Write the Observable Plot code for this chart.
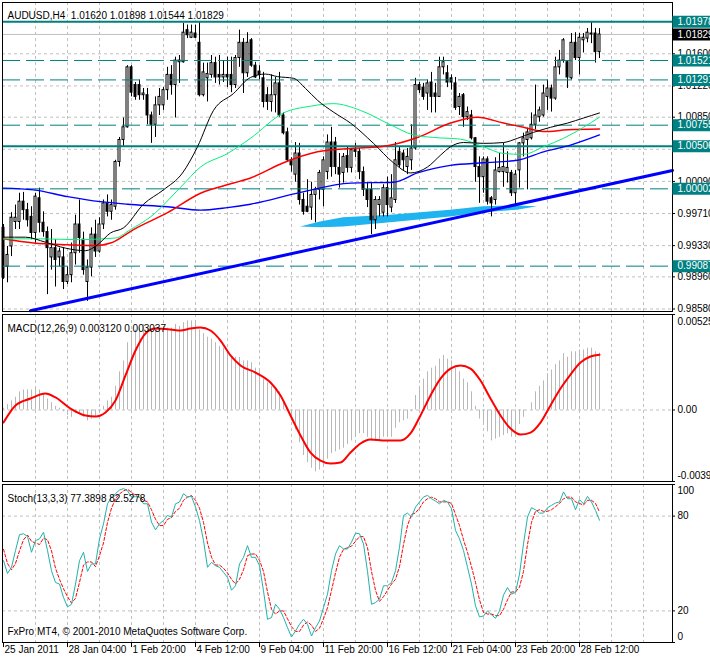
<!DOCTYPE html>
<html><head><meta charset="utf-8">
<script src="https://cdn.jsdelivr.net/npm/d3@7"></script>
<script src="https://cdn.jsdelivr.net/npm/@observablehq/plot@0.6"></script>
<style>
html,body{margin:0;padding:0;background:#fff;}
#chart{position:relative;width:710px;height:659px;overflow:hidden;background:#fff;}
#chart > svg{position:absolute;left:0;}
svg text{white-space:pre;}
</style></head><body><div id="chart"></div>
<script>
// ---------- DATA ----------
const opens = [
0.9954,0.9908,0.9932,0.9961,0.9961,0.9985,0.9975,0.9967,0.9948,0.9989,
0.9960,0.9949,0.9919,0.9930,0.9919,0.9919,0.9890,0.9898,0.9924,0.9958,
0.9940,0.9890,0.9907,0.9946,0.9926,0.9958,0.9983,0.9973,0.9979,1.0032,
1.0058,1.0073,1.0144,1.0123,1.0123,1.0111,1.0111,1.0087,1.0076,1.0099,
1.0099,1.0117,1.0135,1.0123,1.0150,1.0150,1.0188,1.0179,1.0184,1.0173,
1.0111,1.0131,1.0135,1.0149,1.0135,1.0132,1.0135,1.0135,1.0123,1.0155,
1.0173,1.0137,1.0176,1.0146,1.0139,1.0131,1.0111,1.0103,1.0111,1.0125,
1.0087,1.0067,1.0034,1.0017,1.0042,0.9987,0.9979,0.9978,0.9993,0.9999,
0.9999,1.0020,1.0055,1.0055,1.0025,1.0019,1.0039,1.0025,1.0046,1.0044,
1.0020,0.9999,0.9999,0.9963,0.9981,0.9972,1.0001,0.9978,0.9987,1.0044,
1.0042,1.0026,1.0034,1.0048,1.0123,1.0120,1.0113,1.0126,1.0113,1.0109,
1.0144,1.0137,1.0131,1.0125,1.0097,1.0111,1.0085,1.0087,1.0060,1.0026,
1.0014,1.0035,0.9989,0.9987,1.0020,1.0020,1.0019,1.0019,0.9995,1.0022,
1.0054,1.0058,1.0060,1.0076,1.0085,1.0087,1.0109,1.0119,1.0107,1.0144,
1.0152,1.0150,1.0131,1.0173,1.0155,1.0176,1.0178,1.0184,1.0184,1.01620];
const highs = [
0.9958,0.9932,0.9972,0.9981,0.9995,0.9996,0.9983,0.9979,0.9995,1.0001,
0.9973,0.9955,0.9952,0.9940,0.9930,0.9930,0.9908,0.9936,0.9969,0.9987,
0.9949,0.9916,0.9954,0.9963,0.9966,0.9987,0.9993,0.9987,1.0034,1.0061,
1.0084,1.0146,1.0146,1.0126,1.0129,1.0119,1.0119,1.0091,1.0109,1.0119,
1.0120,1.0144,1.0146,1.0156,1.0158,1.0196,1.0194,1.0194,1.0194,1.0197,
1.0149,1.0149,1.0158,1.0156,1.0158,1.0152,1.0156,1.0156,1.0158,1.0188,
1.0178,1.0185,1.0178,1.0150,1.0146,1.0138,1.0120,1.0135,1.0132,1.0138,
1.0090,1.0072,1.0037,1.0055,1.0054,0.9995,1.0011,1.0008,1.0002,1.0022,
1.0038,1.0064,1.0073,1.0061,1.0042,1.0042,1.0050,1.0048,1.0054,1.0048,
1.0026,1.0008,1.0008,0.9991,0.9991,1.0005,1.0014,1.0017,1.0055,1.0050,
1.0046,1.0048,1.0076,1.0131,1.0126,1.0125,1.0129,1.0138,1.0125,1.0156,
1.0156,1.0146,1.0135,1.0132,1.0113,1.0113,1.0097,1.0093,1.0061,1.0038,
1.0038,1.0038,0.9991,1.0037,1.0042,1.0054,1.0044,1.0022,1.0022,1.0055,
1.0066,1.0072,1.0090,1.0123,1.0097,1.0123,1.0129,1.0123,1.0156,1.0164,
1.0178,1.0152,1.0184,1.0185,1.0184,1.0184,1.0190,1.0198,1.0190,1.01898];
const lows = [
0.9893,0.9889,0.9920,0.9952,0.9952,0.9963,0.9955,0.9940,0.9936,0.9948,
0.9943,0.9875,0.9904,0.9884,0.9908,0.9881,0.9887,0.9889,0.9910,0.9924,
0.9898,0.9867,0.9896,0.9919,0.9924,0.9952,0.9967,0.9963,0.9975,1.0026,
1.0050,1.0072,1.0109,1.0105,1.0105,1.0105,1.0076,1.0054,1.0061,1.0087,
1.0093,1.0105,1.0111,1.0084,1.0125,1.0149,1.0178,1.0178,1.0178,1.0109,
1.0109,1.0103,1.0131,1.0125,1.0123,1.0126,1.0120,1.0114,1.0119,1.0144,
1.0113,1.0132,1.0144,1.0131,1.0129,1.0096,1.0093,1.0091,1.0090,1.0085,
1.0064,1.0032,1.0020,1.0008,0.9981,0.9969,0.9972,0.9963,0.9960,0.9987,
0.9979,1.0011,1.0014,1.0017,1.0001,1.0007,1.0019,1.0019,1.0037,1.0011,
0.9991,0.9978,0.9946,0.9952,0.9967,0.9967,0.9967,0.9972,0.9983,1.0025,
1.0022,1.0017,1.0022,1.0046,1.0113,1.0105,1.0093,1.0090,1.0090,1.0109,
1.0135,1.0120,1.0117,1.0093,1.0087,1.0073,1.0081,1.0058,1.0008,0.9983,
0.9995,0.9981,0.9967,0.9981,1.0019,1.0002,1.0007,0.9991,0.9981,1.0001,
1.0038,0.9999,1.0058,1.0070,1.0079,1.0085,1.0093,1.0091,1.0105,1.0135,
1.0149,1.0119,1.0129,1.0152,1.0135,1.0161,1.0173,1.0172,1.0149,1.01544];
const closes = [
0.9895,0.9922,0.9966,0.9966,0.9985,0.9975,0.9963,0.9948,0.9991,0.9960,
0.9949,0.9930,0.9930,0.9916,0.9926,0.9890,0.9898,0.9924,0.9958,0.9942,
0.9904,0.9907,0.9946,0.9926,0.9958,0.9983,0.9973,0.9981,1.0032,1.0058,
1.0073,1.0144,1.0114,1.0109,1.0111,1.0113,1.0087,1.0076,1.0099,1.0109,
1.0117,1.0135,1.0123,1.0152,1.0152,1.0185,1.0182,1.0185,1.0179,1.0111,
1.0138,1.0136,1.0149,1.0132,1.0132,1.0135,1.0132,1.0123,1.0155,1.0173,
1.0137,1.0173,1.0146,1.0132,1.0135,1.0103,1.0103,1.0111,1.0125,1.0087,
1.0066,1.0034,1.0028,1.0042,0.9987,0.9973,0.9973,0.9993,0.9999,1.0019,
1.0034,1.0055,1.0026,1.0026,1.0017,1.0038,1.0025,1.0046,1.0044,1.0020,
0.9999,0.9987,0.9963,0.9987,0.9987,1.0001,0.9981,0.9989,1.0034,1.0028,
1.0034,1.0038,1.0048,1.0123,1.0117,1.0109,1.0125,1.0109,1.0109,1.0144,
1.0150,1.0126,1.0126,1.0096,1.0109,1.0085,1.0091,1.0060,1.0026,1.0014,
1.0035,0.9985,0.9983,1.0022,1.0025,1.0026,1.0025,0.9995,1.0017,1.0054,
1.0060,1.0067,1.0076,1.0087,1.0093,1.0113,1.0119,1.0107,1.0144,1.0152,
1.0176,1.0132,1.0173,1.0155,1.0179,1.0179,1.0185,1.0183,1.0162,1.01829];

const timeLabels = ["25 Jan 2011","28 Jan 04:00","1 Feb 20:00","4 Feb 12:00","9 Feb 04:00",
  "11 Feb 20:00","16 Feb 12:00","21 Feb 04:00","23 Feb 20:00","28 Feb 12:00"];
const timeLabelBars = [0,16,32,48,64,80,96,112,128,144];

const priceTicks = [1.01600,1.01220,1.00850,1.00470,1.00090,0.99710,0.99330,0.98960,0.98580];
const solidLevels = [1.01978, 1.00506];
const dashedLevels = [1.01521, 1.01291, 1.00755, 1.00002, 0.99087];
const lastPrice = 1.01829;

// moving averages: [bar, price]
const maBlack = [[0,0.9943],[5.5,0.9943],[10.5,0.9937],[15.5,0.9930],[20.5,0.9927],[23.5,0.9934],[26.75,0.9948],[30,0.9954],[35,0.9982],[40,0.9999],[44.75,1.0019],[48.5,1.0050],[52.5,1.0093],[57.5,1.0113],[61.75,1.0132],[65.5,1.0136],[68.5,1.0133],[72.5,1.0131],[75.5,1.0119],[78.5,1.0105],[82.5,1.0091],[86.75,1.0078],[92.5,1.0054],[97.5,1.0031],[101.75,1.0019],[106,1.0026],[109.25,1.0040],[111.75,1.0050],[115,1.0055],[120,1.0054],[125,1.0055],[128.5,1.0060],[132.5,1.0067],[136.75,1.0073],[141,1.0078],[145,1.0084],[149,1.0090]];
const maGreen = [[0,0.9941],[9.25,0.9941],[19.25,0.9940],[24.25,0.9941],[28,0.9942],[31.75,0.9952],[36.75,0.9967],[44.25,1.0002],[49.25,1.0026],[56,1.0042],[61.75,1.0060],[70,1.0090],[76.75,1.0098],[82.5,1.0101],[89.25,1.0093],[96.75,1.0076],[102.5,1.0064],[107.5,1.0061],[114.25,1.0059],[120,1.0050],[125,1.0042],[130,1.0041],[135,1.0050],[140,1.0060],[145,1.0073],[149,1.0085]];
const maRed = [[0,0.9941],[7.5,0.9936],[16,0.9934],[23.5,0.9933],[26.75,0.9936],[32.5,0.9952],[41,0.9972],[49.25,0.9995],[57.5,1.0007],[61.75,1.0013],[70,1.0031],[78.5,1.0044],[86.75,1.0048],[94.25,1.0050],[103.5,1.0061],[111.75,1.0078],[118.5,1.0085],[125,1.0078],[130,1.0073],[135,1.0068],[141,1.0070],[149,1.0071]];
const maBlue = [[-0.25,1.0001],[7.5,0.9999],[16,0.9991],[24.25,0.9985],[31,0.9982],[41,0.9979],[49.25,0.9975],[56,0.9978],[61.75,0.9982],[74.25,0.9996],[86.75,1.0007],[97.5,1.0008],[103.5,1.0019],[111.75,1.0028],[120,1.0031],[128.5,1.0034],[135,1.0044],[141.75,1.0052],[149,1.0064]];

const trendPoints = [[6.75,0.9856],[167.25,1.0022]];

const blobBars   = [74.25, 79.25, 85, 96.75, 111.75, 120, 128.5, 133.5];
const blobTop    = [0.9955, 0.9961, 0.9966, 0.9969, 0.9975, 0.9979, 0.9980, 0.9979];
const blobBottom = [0.9955, 0.9954, 0.9955, 0.9960, 0.9967, 0.9972, 0.9975, 0.9979];

const macdMain = [
0.0001,0.0003,0.0005,0.0007,0.0010,0.0011,0.0011,0.0011,0.0012,0.0011,
0.0009,0.0006,0.0004,0.0002,0.0001,-0.0001,-0.0003,-0.0004,-0.0002,-0.0002,
-0.0004,-0.0006,-0.0005,-0.0004,-0.0001,0.0002,0.0005,0.0007,0.0013,0.0021,
0.0027,0.0037,0.0041,0.0044,0.0045,0.0047,0.0045,0.0044,0.0044,0.0044,
0.0044,0.0045,0.0045,0.0047,0.0046,0.0048,0.0049,0.0049,0.0049,0.0044,
0.0042,0.0040,0.0039,0.0037,0.0035,0.0034,0.0032,0.0029,0.0029,0.0029,
0.0027,0.0027,0.0026,0.0023,0.0021,0.0017,0.0015,0.0013,0.0012,0.0010,
0.0005,0.0000,-0.0006,-0.0011,-0.0018,-0.0025,-0.0029,-0.0032,-0.0034,-0.0033,
-0.0031,-0.0027,-0.0024,-0.0023,-0.0022,-0.0021,-0.0019,-0.0017,-0.0015,-0.0013,
-0.0013,-0.0015,-0.0017,-0.0017,-0.0017,-0.0015,-0.0015,-0.0015,-0.0010,-0.0007,
-0.0006,-0.0005,-0.0001,0.0008,0.0013,0.0017,0.0021,0.0023,0.0024,0.0028,
0.0030,0.0028,0.0027,0.0023,0.0021,0.0017,0.0015,0.0010,0.0002,-0.0005,
-0.0007,-0.0012,-0.0017,-0.0016,-0.0015,-0.0014,-0.0013,-0.0015,-0.0013,-0.0008,
-0.0004,0.0000,0.0004,0.0010,0.0013,0.0016,0.0020,0.0022,0.0025,0.0027,
0.0031,0.0029,0.0032,0.0032,0.0033,0.0033,0.0034,0.0034,0.0032,0.00312];
const macdSignal = [[0,-0.00069],[3,0.00025],[6.75,0.00063],[10.5,0.00091],[13,0.00069],[16.75,0.00008],[20.5,-0.00030],[23,-0.00036],[25.5,-0.00014],[28,0.00052],[30.5,0.00190],[33,0.00327],[35.5,0.00421],[38,0.00448],[41.75,0.00443],[44.25,0.00437],[46.75,0.00448],[49.25,0.00453],[51.75,0.00437],[54.25,0.00382],[56.75,0.00300],[59.25,0.00245],[63,0.00206],[66.75,0.00151],[69.25,0.00080],[71.75,-0.00030],[74.25,-0.00140],[76.75,-0.00234],[79.25,-0.00278],[81.75,-0.00294],[84.25,-0.00289],[86.75,-0.00234],[89.25,-0.00184],[91.75,-0.00162],[95.5,-0.00168],[99.25,-0.00168],[101.75,-0.00129],[104.25,-0.00030],[106.75,0.00080],[109.25,0.00173],[111.75,0.00228],[114.25,0.00245],[116.75,0.00228],[119.25,0.00162],[121.75,0.00063],[124.25,-0.00030],[126.75,-0.00102],[129.25,-0.00135],[131.75,-0.00124],[134.25,-0.00069],[136.75,0.00025],[139.25,0.00118],[141.75,0.00195],[144.25,0.00261],[146.75,0.00294],[149,0.003037]];
const macdTicks = [0.00525, 0, -0.00393];

const stochMain = [
51.8,43.7,47.6,58.2,68.3,68.8,67.1,57.1,64.5,65.6,
69.8,58.2,45.4,38.0,37.0,28.5,22.5,24.2,37.0,51.8,
57.1,45.0,49.7,49.7,65.6,75.1,87.8,92.1,94.2,96.5,
97.4,96.0,92.1,92.3,92.1,87.8,87.8,76.2,71.3,75.1,
77.2,80.4,79.4,87.8,88.9,94.2,92.1,92.5,85.7,77.2,
64.5,47.6,50.7,48.6,47.6,44.4,41.2,33.1,35.9,49.7,
53.9,61.3,53.9,53.9,48.6,32.7,14.7,15.8,24.2,21.1,
15.8,9.4,3.5,7.3,11.5,14.7,11.5,4.1,9.4,13.6,
22.1,30.6,45.4,56.0,61.3,59.2,59.2,63.5,69.2,68.8,
62.4,45.0,24.2,25.3,27.4,35.9,35.9,38.0,45.4,60.3,
80.4,81.9,79.4,85.7,88.9,92.1,93.1,91.0,89.5,87.8,
90.0,88.9,84.7,70.9,65.6,58.2,47.6,37.0,23.2,16.2,
16.8,20.0,17.5,15.3,20.0,30.0,34.8,30.6,31.7,43.3,
62.4,79.4,85.3,84.0,81.9,81.9,85.3,86.8,88.3,88.9,
95.3,91.0,91.0,84.0,90.4,87.8,92.5,88.9,83.6,77.39];
const stochSignal = [
59,50,46,50,58,65,68,64,63,62,
66,65,58,47,40,34,29,25,28,38,
49,51,51,48,55,63,76,85,91,94,
96,97,95,93,92,90,89,84,78,74,
74,78,79,83,85,90,92,93,90,85,
76,63,54,49,49,47,44,40,37,40,
46,55,56,56,52,45,32,21,18,20,
20,15,10,7,7,11,13,11,7,9,
15,22,33,44,54,59,60,61,64,67,
67,60,45,33,26,29,33,37,40,48,
62,74,81,82,85,89,91,92,91,89,
89,89,88,81,74,65,57,48,38,27,
19,18,18,17,17,21,27,32,32,35,
45,62,76,83,84,83,83,84,86,88,
91,92,92,89,88,87,90,90,88,82.53];
const stochTicks = [100, 80, 20, 0];

// ---------- BUILD ----------
const W = 710;
const xDomain = [-0.25, 167.25];
const xEnd = xDomain[1];
const gridBars = d3.range(8, 161, 8);
const font = '"Liberation Sans", Arial, sans-serif';
const teal = "#008080";
const gridStyle = {stroke: "#c0c0c0", strokeDasharray: "3,3"};

const candles = opens.map((o, i) => ({i, open: o, high: highs[i], low: lows[i], close: closes[i]}));
const blob = blobBars.map((b, k) => ({bar: b, top: blobTop[k], bottom: blobBottom[k]}));
const allLevels = [...solidLevels, ...dashedLevels];

function panel(height, mt, mb, yDomain, marks) {
  return Plot.plot({
    width: W, height, marginLeft: 2, marginRight: 38, marginTop: mt, marginBottom: mb,
    x: {domain: xDomain, axis: null},
    y: {domain: yDomain, axis: null},
    style: {fontFamily: font, fontSize: "10px", background: "transparent", overflow: "visible", color: "black"},
    marks
  });
}

const mainPlot = panel(312, 2, 1, [0.985503, 1.022071], [
  Plot.ruleX(gridBars, {x: d => d, ...gridStyle}),
  Plot.ruleY(priceTicks, {y: d => d, ...gridStyle}),
  Plot.areaY(blob, {x: "bar", y1: "bottom", y2: "top", fill: "#1fb4f0"}),
  Plot.ruleY([lastPrice], {y: d => d, stroke: "#c0c0c0"}),
  Plot.ruleX(candles, {x: "i", y1: "low", y2: "high", stroke: "black", strokeWidth: 1}),
  Plot.rect(candles, {x1: d => d.i - 0.25, x2: d => d.i + 0.25, y1: "open", y2: "close",
    fill: d => d.close >= d.open ? "white" : "black", stroke: "black", strokeWidth: 1, inset: 0}),
  Plot.ruleY(dashedLevels, {y: d => d, stroke: teal, strokeWidth: 1, strokeDasharray: "18,6"}),
  Plot.ruleY(solidLevels, {y: d => d, stroke: teal, strokeWidth: 2}),
  Plot.line(maBlue, {x: d => d[0], y: d => d[1], stroke: "#0000ff", strokeWidth: 1.4, curve: "monotone-x"}),
  Plot.line(maRed, {x: d => d[0], y: d => d[1], stroke: "#ff0000", strokeWidth: 1.5, curve: "monotone-x"}),
  Plot.line(maGreen, {x: d => d[0], y: d => d[1], stroke: "#00f07a", strokeWidth: 1, curve: "monotone-x"}),
  Plot.line(maBlack, {x: d => d[0], y: d => d[1], stroke: "black", strokeWidth: 1, curve: "monotone-x"}),
  Plot.line(trendPoints, {x: d => d[0], y: d => d[1], stroke: "#0000ff", strokeWidth: 3}),
  Plot.frame({stroke: "black"}),
  Plot.ruleY(priceTicks, {y: d => d, x1: () => xEnd, x2: () => xEnd + 0.75, stroke: "black"}),
  Plot.text(priceTicks, {y: d => d, text: d => d.toFixed(5), frameAnchor: "right", dx: 5, textAnchor: "start", fill: "black"}),
  Plot.ruleY(allLevels, {y: d => d, x1: () => xEnd + 0.1, x2: () => xEnd + 12, stroke: teal, strokeWidth: 12}),
  Plot.text(allLevels, {y: d => d, text: d => d.toFixed(5), frameAnchor: "right", dx: 5, textAnchor: "start", fill: "white"}),
  Plot.ruleY([lastPrice], {y: d => d, x1: () => xEnd + 0.1, x2: () => xEnd + 12, stroke: "black", strokeWidth: 12}),
  Plot.text([lastPrice], {y: d => d, text: d => d.toFixed(5), frameAnchor: "right", dx: 5, textAnchor: "start", fill: "white"}),
  Plot.text(["AUDUSD,H4  1.01620 1.01898 1.01544 1.01829"], {text: d => d, frameAnchor: "top-left", dx: 5, dy: 9, textAnchor: "start", fill: "black"})
]);

const macdPlot = panel(170, 2, 1, [-0.00393, 0.00525], [
  Plot.ruleX(gridBars, {x: d => d, ...gridStyle}),
  Plot.ruleY([0], {y: d => d, ...gridStyle}),
  Plot.ruleX(macdMain, {x: (d, i) => i, y1: 0, y2: d => d, stroke: "#b8b8b8", strokeWidth: 1}),
  Plot.line(macdSignal, {x: d => d[0], y: d => d[1], stroke: "#ff0000", strokeWidth: 2, curve: "monotone-x"}),
  Plot.frame({stroke: "black"}),
  Plot.ruleY(macdTicks, {y: d => d, x1: () => xEnd, x2: () => xEnd + 0.75, stroke: "black"}),
  Plot.text([macdTicks[0]], {y: d => d, text: d => d.toFixed(5), frameAnchor: "right", dx: 5, dy: 7, textAnchor: "start", fill: "black"}),
  Plot.text([macdTicks[1]], {y: d => d, text: () => "0.00", frameAnchor: "right", dx: 5, textAnchor: "start", fill: "black"}),
  Plot.text([macdTicks[2]], {y: d => d, text: d => d.toFixed(5), frameAnchor: "right", dx: 5, dy: -6, textAnchor: "start", fill: "black"}),
  Plot.text(["MACD(12,26,9) 0.003120 0.003037"], {text: d => d, frameAnchor: "top-left", dx: 5, dy: 10, textAnchor: "start", fill: "black"})
]);

const stochPlot = panel(177, 2, 17, [0, 100], [
  Plot.ruleX(gridBars, {x: d => d, ...gridStyle}),
  Plot.ruleY([80, 20], {y: d => d, ...gridStyle}),
  Plot.line(stochSignal, {x: (d, i) => i, y: d => d, stroke: "#ff0000", strokeWidth: 1, strokeDasharray: "3,2"}),
  Plot.line(stochMain, {x: (d, i) => i, y: d => d, stroke: "#20b2aa", strokeWidth: 1}),
  Plot.frame({stroke: "black"}),
  Plot.ruleY(stochTicks, {y: d => d, x1: () => xEnd, x2: () => xEnd + 0.75, stroke: "black"}),
  Plot.text([100], {y: d => d, text: d => String(d), frameAnchor: "right", dx: 5, dy: 6, textAnchor: "start", fill: "black"}),
  Plot.text([80, 20], {y: d => d, text: d => String(d), frameAnchor: "right", dx: 5, textAnchor: "start", fill: "black"}),
  Plot.text([0], {y: d => d, text: d => String(d), frameAnchor: "right", dx: 5, dy: -6, textAnchor: "start", fill: "black"}),
  Plot.text(["Stoch(13,3,3) 77.3898 82.5278"], {text: d => d, frameAnchor: "top-left", dx: 5, dy: 10, textAnchor: "start", fill: "black"}),
  Plot.text(["FxPro MT4, \u00a9 2001-2010 MetaQuotes Software Corp."], {text: d => d, frameAnchor: "bottom-left", dx: 5, dy: -8, textAnchor: "start", fill: "black"}),
  Plot.ruleX(timeLabelBars, {x: d => d, y1: 0, y2: -3.2, stroke: "black"}),
  Plot.text(timeLabels, {x: (d, i) => timeLabelBars[i], text: d => d, frameAnchor: "bottom", dy: 10, dx: 1, textAnchor: "start", fill: "black"})
]);

const root = document.getElementById("chart");
[[mainPlot, 0], [macdPlot, 312], [stochPlot, 482]].forEach(([svg, top]) => {
  svg.style.top = top + "px";
  root.appendChild(svg);
});
</script></body></html>
